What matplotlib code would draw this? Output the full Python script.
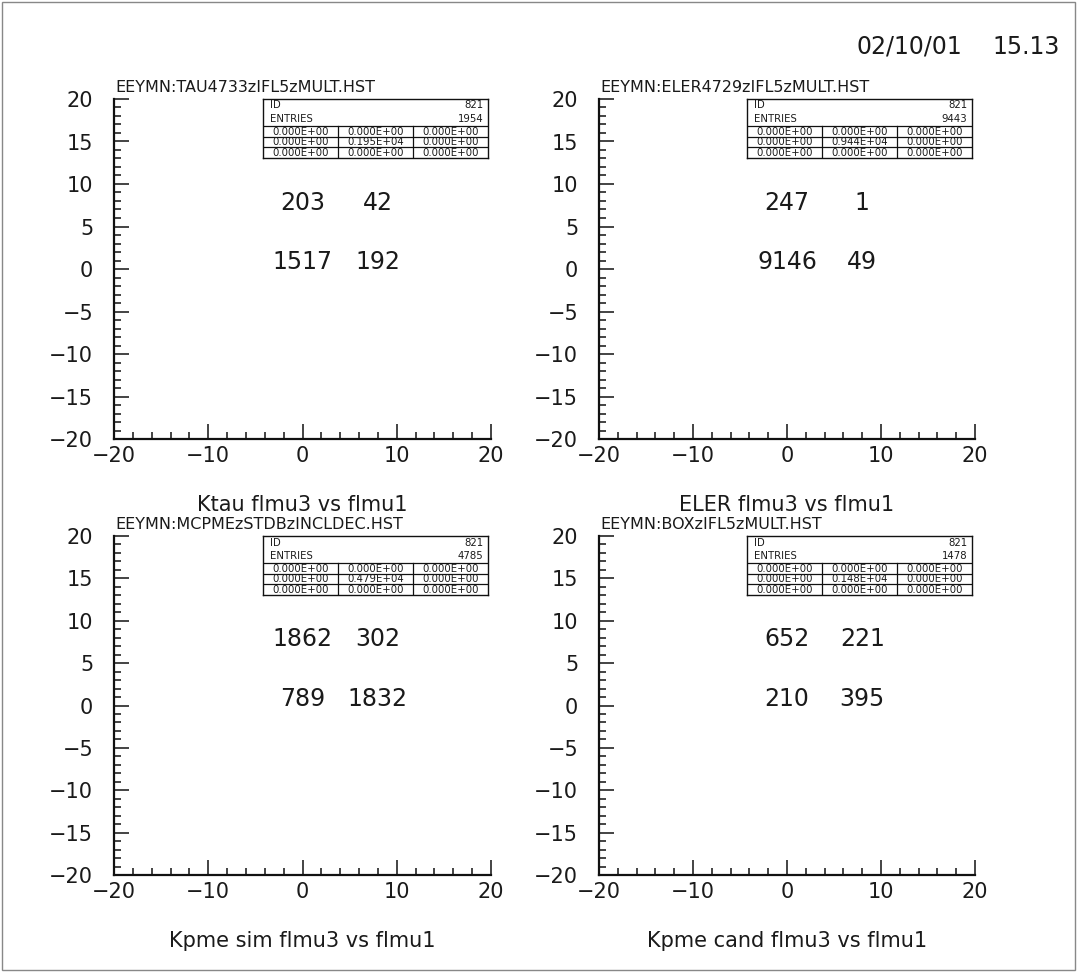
import matplotlib
matplotlib.use("Agg")
import matplotlib.pyplot as plt
from matplotlib import ticker
from matplotlib.patches import Rectangle

# histogram file names, x titles and 2x2 cell counts for each zone
files = ['EEYMN:TAU4733zIFL5zMULT.HST', 'EEYMN:ELER4729zIFL5zMULT.HST',
         'EEYMN:MCPMEzSTDBzINCLDEC.HST', 'EEYMN:BOXzIFL5zMULT.HST']
xtitles = ['Ktau flmu3 vs flmu1', 'ELER flmu3 vs flmu1',
           'Kpme sim flmu3 vs flmu1', 'Kpme cand flmu3 vs flmu1']
hist_id = 821
entries = [1954, 9443, 4785, 1478]
center_val = ['0.195E+04', '0.944E+04', '0.479E+04', '0.148E+04']
# counts: [upper-left, upper-right, lower-left, lower-right]
counts = [[203, 42, 1517, 192],
          [247, 1, 9146, 49],
          [1862, 302, 789, 1832],
          [652, 221, 210, 395]]
date_str = '02/10/01'
time_str = '15.13'

W, H = 1077, 972
plt.rcParams['font.family'] = ['DejaVu Sans']
txtcol = '#1a1a1a'

fig = plt.figure(figsize=(W / 100, H / 100), dpi=100)

def fx(px):
    return px / W

def fy(py):
    return 1 - py / H

# zone rectangles in pixels (x0, y0, x1, y1)
zones = [(114, 99, 491, 439), (599, 99, 975, 439),
         (114, 536, 491, 875), (599, 536, 975, 875)]
# the counts are written at these cell positions (data coords, baseline)
cell_x = (0, 8)
cell_y = (7, 0)

for k, (x0, y0, x1, y1) in enumerate(zones):
    ax = fig.add_axes([fx(x0), fy(y1), (x1 - x0) / W, (y1 - y0) / H])
    ax.set_xlim(-20, 20)
    ax.set_ylim(-20, 20)
    for s in ['top', 'right']:
        ax.spines[s].set_visible(False)
    for s in ['left', 'bottom']:
        ax.spines[s].set_linewidth(1.6)
        ax.spines[s].set_color('#111111')
    ax.xaxis.set_major_locator(ticker.MultipleLocator(10))
    ax.xaxis.set_minor_locator(ticker.MultipleLocator(2))
    ax.yaxis.set_major_locator(ticker.MultipleLocator(5))
    ax.yaxis.set_minor_locator(ticker.MultipleLocator(1))
    ax.tick_params(which='major', direction='in', length=11, width=1.1,
                   labelsize=15, labelcolor=txtcol, top=False, right=False,
                   color='#111111')
    ax.tick_params(which='minor', direction='in', length=5, width=1.1,
                   top=False, right=False, color='#111111')
    ax.tick_params(axis='y', pad=15)
    ax.tick_params(axis='x', pad=5)

    ul, ur, ll, lr = counts[k]
    for val, xx, yy in [(ul, cell_x[0], cell_y[0]), (ur, cell_x[1], cell_y[0]),
                        (ll, cell_x[0], cell_y[1]), (lr, cell_x[1], cell_y[1])]:
        ax.text(xx, yy, str(val), ha='center', va='baseline', fontsize=17,
                color=txtcol)

    # file name above the zone
    fig.text(fx(x0 + 1), fy(y0 - 7), files[k], ha='left', va='baseline',
             fontsize=11.5, color=txtcol)
    # x title under the zone
    fig.text(fx((x0 + x1) / 2), fy(y1 + 66), xtitles[k], ha='center',
             va='center', fontsize=15, color=txtcol)

    # statistics box
    bx0 = x1 - 228
    bx1 = x1 - 3
    by0 = y0
    by1 = by0 + 59
    sb = fig.add_axes([fx(bx0), fy(by1), (bx1 - bx0) / W, (by1 - by0) / H])
    sb.set_xlim(0, 1)
    sb.set_ylim(59, 0)
    sb.set_xticks([])
    sb.set_yticks([])
    sb.patch.set_alpha(0)
    for s in sb.spines.values():
        s.set_linewidth(1.0)
        s.set_color('#111111')
    sb.text(0.03, 6.5, 'ID', fontsize=7.3, va='center', color=txtcol)
    sb.text(0.98, 6.5, str(hist_id), fontsize=7.3, va='center', ha='right',
            color=txtcol)
    sb.text(0.03, 20, 'ENTRIES', fontsize=7.3, va='center', color=txtcol)
    sb.text(0.98, 20, str(entries[k]), fontsize=7.3, va='center', ha='right',
            color=txtcol)
    for yy in [27, 37.7, 48.4]:
        sb.axhline(yy, color='#111111', lw=0.9)
    for xx in [1 / 3, 2 / 3]:
        sb.plot([xx, xx], [27, 59], color='#111111', lw=0.9)
    for r in range(3):
        for c in range(3):
            s = center_val[k] if (r == 1 and c == 1) else '0.000E+00'
            sb.text((c + 0.5) / 3, 27 + 10.7 * r + 5.6, s, fontsize=7.3,
                    ha='center', va='center', color=txtcol)

fig.text(fx(962), fy(47), date_str, ha='right', va='center', fontsize=17,
         color=txtcol)
fig.text(fx(1060), fy(47), time_str, ha='right', va='center', fontsize=17,
         color=txtcol)
fig.patches.append(Rectangle((0.002, 0.002), 0.996, 0.996, fill=False,
                             edgecolor='#888888', lw=1.0,
                             transform=fig.transFigure, figure=fig))

fig.savefig('out.png', dpi=100)
